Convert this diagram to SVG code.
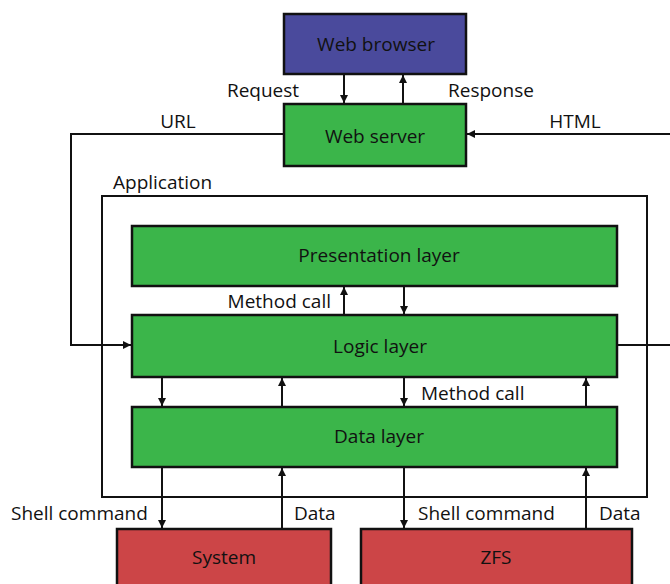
<svg xmlns="http://www.w3.org/2000/svg" width="670" height="584" viewBox="0 0 670 584">
<style>
text{font-family:"Open Sans","Liberation Sans",sans-serif;font-size:19px;fill:#111}
.c{text-anchor:middle}
.n{stroke:#111;stroke-width:2.5}
.l{fill:none;stroke:#111;stroke-width:2}
</style>
<defs>
<marker id="a" viewBox="0 0 10 10" refX="10" refY="5" markerWidth="4" markerHeight="4" orient="auto" markerUnits="strokeWidth">
<path d="M0,0 L10,5 L0,10 z" fill="#111"/>
</marker>
</defs>
<rect x="0" y="0" width="670" height="584" fill="#fff"/>
<g id="application">
<rect x="102" y="196" width="545" height="301" fill="none" stroke="#111" stroke-width="2"/>
<text x="113" y="189">Application</text>
</g>
<g id="web-browser">
<rect class="n" x="284" y="14" width="182" height="60" fill="#4A4A9C"/>
<text class="c" x="376" y="51">Web browser</text>
</g>
<g id="web-server">
<rect class="n" x="284" y="104" width="182" height="62" fill="#3BB54A"/>
<text class="c" x="375" y="143">Web server</text>
</g>
<g id="presentation-layer">
<rect class="n" x="132" y="226" width="485" height="60" fill="#3BB54A"/>
<text class="c" x="379" y="262">Presentation layer</text>
</g>
<g id="logic-layer">
<rect class="n" x="132" y="315" width="485" height="62" fill="#3BB54A"/>
<text class="c" x="380" y="353">Logic layer</text>
</g>
<g id="data-layer">
<rect class="n" x="132" y="407" width="485" height="60" fill="#3BB54A"/>
<text class="c" x="379" y="443">Data layer</text>
</g>
<g id="system">
<rect class="n" x="117" y="529" width="214" height="60" fill="#CC4547"/>
<text class="c" x="224" y="564">System</text>
</g>
<g id="zfs">
<rect class="n" x="361" y="529" width="271" height="60" fill="#CC4547"/>
<text class="c" x="496" y="564">ZFS</text>
</g>
<g id="connectors">
<line class="l" x1="344" y1="75" x2="344" y2="103" marker-end="url(#a)"/>
<line class="l" x1="403" y1="103" x2="403" y2="75" marker-end="url(#a)"/>
<text class="c" x="263" y="97">Request</text>
<text class="c" x="491" y="97">Response</text>
<polyline class="l" points="284,134 71,134 71,345 131,345" marker-end="url(#a)"/>
<text class="c" x="178" y="128">URL</text>
<line class="l" x1="670" y1="134" x2="467" y2="134" marker-end="url(#a)"/>
<text class="c" x="575" y="128">HTML</text>
<line class="l" x1="617" y1="345" x2="670" y2="345"/>
<line class="l" x1="344" y1="315" x2="344" y2="287" marker-end="url(#a)"/>
<line class="l" x1="404" y1="287" x2="404" y2="314" marker-end="url(#a)"/>
<text x="331" y="308" text-anchor="end">Method call</text>
<line class="l" x1="162" y1="378" x2="162" y2="406" marker-end="url(#a)"/>
<line class="l" x1="282" y1="407" x2="282" y2="378" marker-end="url(#a)"/>
<line class="l" x1="404" y1="378" x2="404" y2="406" marker-end="url(#a)"/>
<line class="l" x1="586" y1="407" x2="586" y2="378" marker-end="url(#a)"/>
<text x="421" y="400">Method call</text>
<line class="l" x1="162" y1="468" x2="162" y2="528" marker-end="url(#a)"/>
<line class="l" x1="282" y1="529" x2="282" y2="468" marker-end="url(#a)"/>
<line class="l" x1="404" y1="468" x2="404" y2="528" marker-end="url(#a)"/>
<line class="l" x1="586" y1="529" x2="586" y2="468" marker-end="url(#a)"/>
<text x="11" y="520">Shell command</text>
<text x="294" y="520">Data</text>
<text x="418" y="520">Shell command</text>
<text x="599" y="520">Data</text>
</g>
</svg>
